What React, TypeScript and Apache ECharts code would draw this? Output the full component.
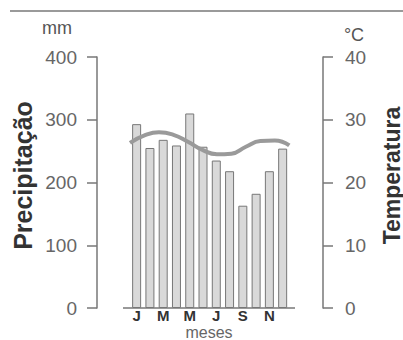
import React, { useEffect, useRef } from "react";
import * as echarts from "echarts";

const months = ["J", "F", "M", "A", "M", "J", "J", "A", "S", "O", "N", "D"];
const precipitation = [293, 255, 268, 259, 310, 257, 235, 218, 163, 182, 218, 254];
const temperature = [26.3, 27.5, 28.0, 27.6, 26.5, 25.2, 24.5, 24.6, 25.7, 26.6, 26.7, 25.9];
const precipTicks = { min: 0, max: 400, interval: 100 };
const tempTicks = { min: 0, max: 40, interval: 10 };

const FONT = "'Liberation Sans', Arial, sans-serif";

export default function App() {
  const ref = useRef<HTMLDivElement>(null);
  useEffect(() => {
    if (!ref.current) return;
    const chart = echarts.init(ref.current, null, { renderer: "svg" });
    chart.setOption({
      animation: false,
      backgroundColor: "#ffffff",
      textStyle: { fontFamily: FONT },
      grid: { left: 130, right: 113.7, top: 57, bottom: 32, containLabel: false, outerBoundsMode: "none" },
      graphic: [
        { type: "line", shape: { x1: 10, y1: 11, x2: 403, y2: 11 }, style: { stroke: "#9a9a9a", lineWidth: 2 } },
        { type: "line", shape: { x1: 123, y1: 308, x2: 295, y2: 308 }, style: { stroke: "#777", lineWidth: 1.5 } },
        { type: "text", x: 57, y: 28, style: { text: "mm", fontSize: 18, fill: "#555", fontFamily: FONT, textAlign: "center", textVerticalAlign: "middle" } },
        { type: "text", x: 354, y: 35, style: { text: "°C", fontSize: 18, fill: "#555", fontFamily: FONT, textAlign: "center", textVerticalAlign: "middle" } },
        { type: "text", x: 209, y: 332, style: { text: "meses", fontSize: 16, fill: "#666", fontFamily: FONT, textAlign: "center", textVerticalAlign: "middle" } },
      ],
      xAxis: [
        {
          type: "category",
          data: months,
          axisLine: { show: false },
          axisTick: { show: false },
          axisLabel: { interval: 1, fontSize: 15, fontWeight: "bold", color: "#333", margin: 0, lineHeight: 14, fontFamily: FONT },
        },
        { type: "category", data: months, boundaryGap: false, show: false },
      ],
      yAxis: [
        {
          type: "value",
          position: "left",
          offset: 33,
          ...precipTicks,
          splitLine: { show: false },
          axisLine: { show: true, lineStyle: { color: "#777", width: 1.5 } },
          axisTick: { show: true, length: 10, lineStyle: { color: "#777", width: 1.5 } },
          axisLabel: { fontSize: 19, color: "#666", margin: 20, fontFamily: FONT },
          name: "Precipitação",
          nameLocation: "middle",
          nameGap: 62,
          nameTextStyle: { fontSize: 25, fontWeight: "bold", color: "#333", fontFamily: FONT, padding: [0, 0, 0, 14] },
        },
        {
          type: "value",
          position: "right",
          offset: 33.7,
          ...tempTicks,
          splitLine: { show: false },
          axisLine: { show: true, lineStyle: { color: "#777", width: 1.5 } },
          axisTick: { show: true, length: 10, lineStyle: { color: "#777", width: 1.5 } },
          axisLabel: { fontSize: 19, color: "#666", margin: 22, fontFamily: FONT },
          name: "Temperatura",
          nameLocation: "middle",
          nameGap: 57,
          nameTextStyle: { fontSize: 23, fontWeight: "bold", color: "#333", fontFamily: FONT, padding: [0, 0, 0, 14] },
        },
      ],
      series: [
        {
          type: "bar",
          data: precipitation,
          xAxisIndex: 0,
          yAxisIndex: 0,
          barWidth: 9,
          itemStyle: { color: "#d9d9d9", borderColor: "#777", borderWidth: 1 },
        },
        {
          type: "line",
          data: temperature,
          xAxisIndex: 1,
          yAxisIndex: 1,
          smooth: 0.5,
          showSymbol: false,
          lineStyle: { color: "#9a9a9a", width: 4 },
        },
      ],
    });
    return () => chart.dispose();
  }, []);
  return <div ref={ref} style={{ position: "fixed", left: 0, top: 0, width: 403, height: 340 }} />;
}
